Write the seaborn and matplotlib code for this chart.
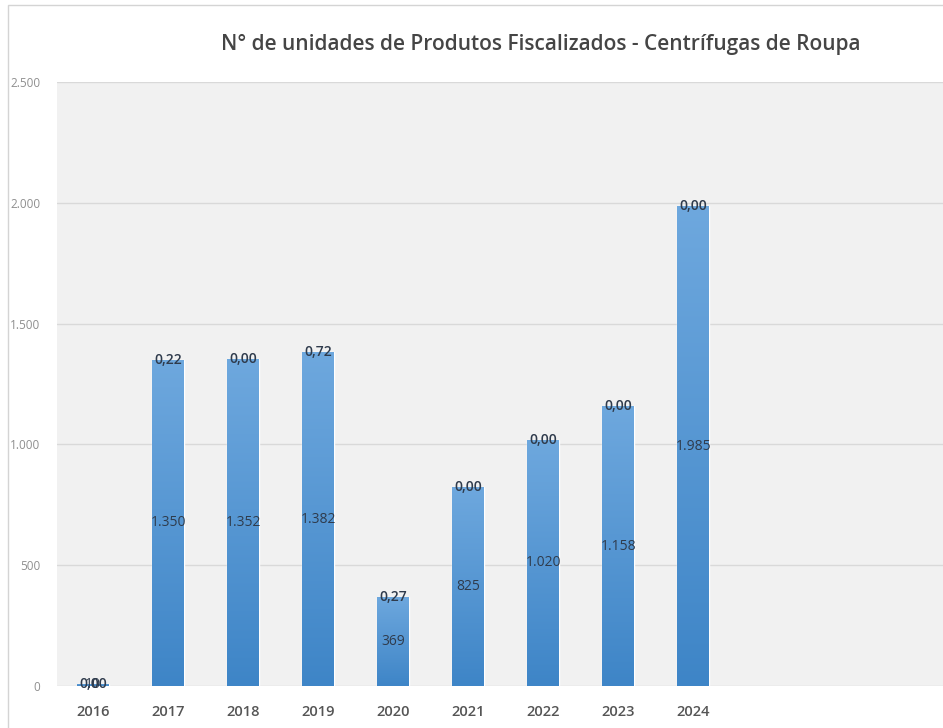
"""
Centrífugas de Roupa - unidades fiscalizadas por ano
"""

import numpy as np
import pandas as pd
import matplotlib
matplotlib.use("Agg")
import matplotlib.pyplot as plt
import seaborn as sns
from matplotlib.colors import LinearSegmentedColormap
from matplotlib.patches import Rectangle

# ---------------------------------------------------------------------------
# DATA
# ---------------------------------------------------------------------------
anos = ["2016", "2017", "2018", "2019", "2020", "2021", "2022", "2023", "2024"]
unidades = [10, 1350, 1352, 1382, 369, 825, 1020, 1158, 1985]
# second (tiny) series whose labels sit on top of each bar
rotulos_topo = [0.00, 0.22, 0.00, 0.72, 0.27, 0.00, 0.00, 0.00, 0.00]
y_ticks = [0, 500, 1000, 1500, 2000, 2500]

TITLE = "N° de unidades de Produtos Fiscalizados - Centrífugas de Roupa"

COLORS = {
    "bar_top": "#6ea8de",
    "bar_bottom": "#3e85c7",
    "plot_bg": "#f1f1f1",
    "grid": "#d9d9d9",
    "label": "#2f3b4c",
    "xtick": "#555555",
    "ytick": "#8f8f8f",
    "title": "#454545",
    "frame": "#d4d4d4",
}


def fmt_br_int(v):
    return f"{v:,.0f}".replace(",", ".")


def fmt_br_dec(v):
    return f"{v:.2f}".replace(".", ",")


sns.set_style("white")
plt.rcParams["font.family"] = ["Open Sans", "DejaVu Sans"]

df = pd.DataFrame({"ano": anos, "unidades": unidades, "topo": rotulos_topo})

fig = plt.figure(figsize=(9.43, 7.28), dpi=100)
fig.patch.set_facecolor("white")
ax = fig.add_axes([57 / 943, 1 - 686 / 728, 1 - 57 / 943, (686 - 82) / 728])
ax.set_facecolor(COLORS["plot_bg"])

sns.barplot(data=df, x="ano", y="unidades", order=anos, width=0.42,
            color=COLORS["bar_bottom"], saturation=1, ax=ax, zorder=2)

# vertical gradient inside each bar
cmap = LinearSegmentedColormap.from_list(
    "bar", [COLORS["bar_bottom"], COLORS["bar_top"]])
grad = np.linspace(0, 1, 256).reshape(-1, 1)
for patch in ax.patches:
    x0, y0 = patch.get_x(), patch.get_y()
    w, h = patch.get_width(), patch.get_height()
    im = ax.imshow(grad, extent=[x0, x0 + w, y0, y0 + h], origin="lower",
                   aspect="auto", cmap=cmap, zorder=3)
    im.set_clip_path(patch)

# value labels: middle of bar (unidades) and on top (second series)
for i, row in df.iterrows():
    ax.text(i, row["unidades"] / 2, fmt_br_int(row["unidades"]),
            ha="center", va="center", fontsize=10, fontweight="medium",
            color=COLORS["label"], zorder=5)
    ax.text(i, row["unidades"] + row["topo"], fmt_br_dec(row["topo"]),
            ha="center", va="center", fontsize=10, fontweight="semibold",
            color=COLORS["label"], zorder=5)

ax.set_xlim(-0.48, 11.33)
ax.set_ylim(0, 2500)
ax.set_yticks(y_ticks)
ax.set_yticklabels([fmt_br_int(v) for v in y_ticks])
ax.yaxis.grid(True, color=COLORS["grid"], linewidth=1)
ax.set_axisbelow(True)
ax.tick_params(axis="y", length=0, pad=12, labelsize=8.5,
               labelcolor=COLORS["ytick"])
ax.tick_params(axis="x", length=0, pad=14, labelsize=10.5,
               labelcolor=COLORS["xtick"])
for lbl in ax.get_xticklabels():
    lbl.set_fontweight("semibold")
ax.set_xlabel("")
ax.set_ylabel("")
for s in ax.spines.values():
    s.set_visible(False)

fig.text(541 / 943, 1 - 44 / 728, TITLE, ha="center", va="center",
         fontsize=15, fontweight="semibold", color=COLORS["title"])

# thin frame of the chart object
fig.patches.append(Rectangle((8 / 943, -0.01), 1.0, 1 - 5 / 728 + 0.01,
                             transform=fig.transFigure, fill=False,
                             edgecolor=COLORS["frame"], linewidth=1))

fig.savefig("out.png", dpi=100, facecolor="white")
